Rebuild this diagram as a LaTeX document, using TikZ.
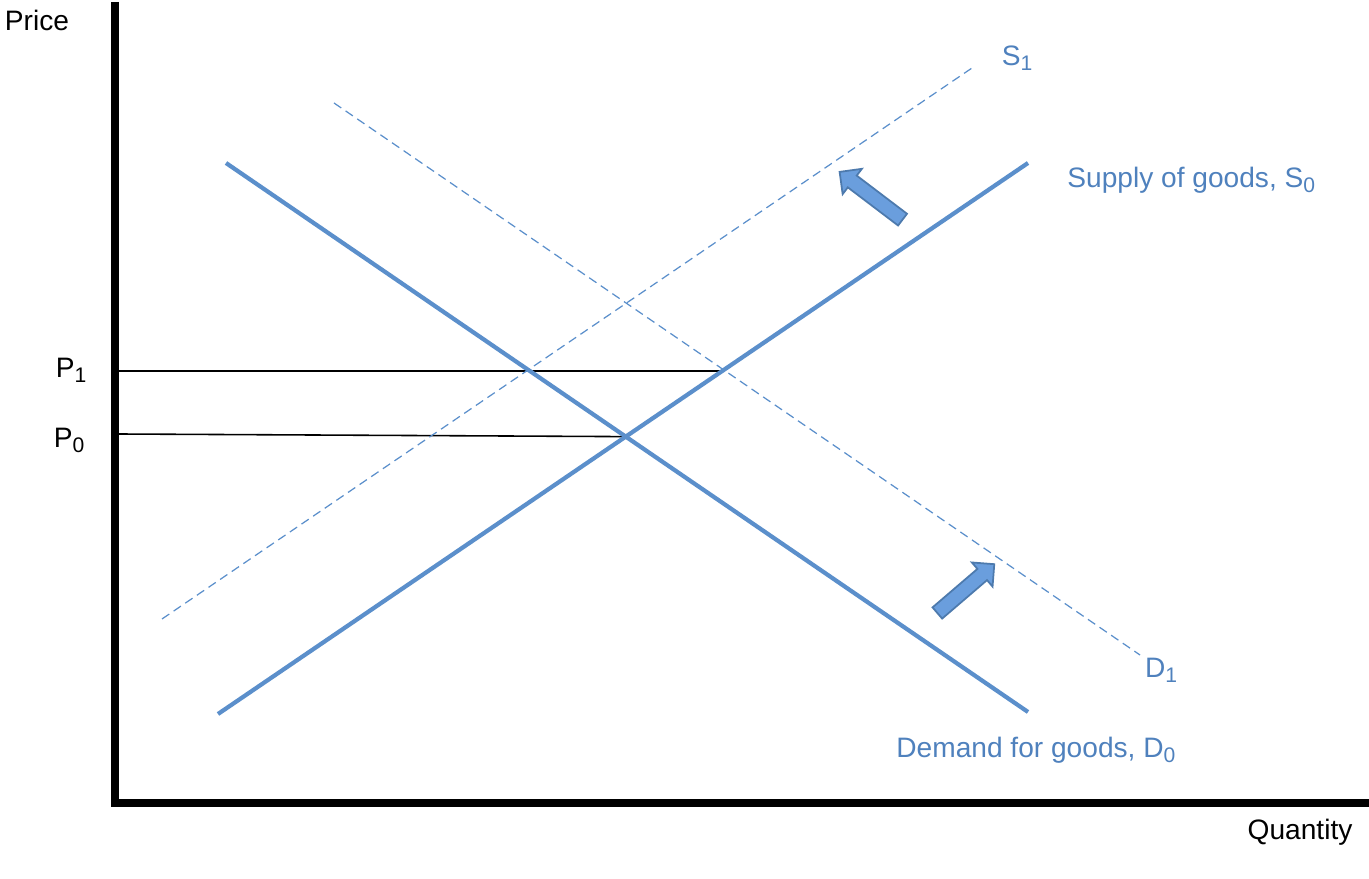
\documentclass[tikz,border=0pt]{standalone}
\usepackage{fontspec}
\setmainfont{Liberation Sans}
\usetikzlibrary{shapes.arrows}
\definecolor{curveblue}{HTML}{5B8FCB}
\definecolor{textblue}{HTML}{4F81BD}
\definecolor{shiftblue}{HTML}{6A9EDD}

\tikzset{
  curve/.style={curveblue,line width=1.2pt},
  shifted/.style={curveblue,line width=0.35pt,dash pattern=on 2.5pt off 1.5pt},
  level/.style={black,line width=0.45pt},
  curvelabel/.style={textblue,font=\fontsize{8}{9.5}\selectfont},
  axislabel/.style={black,font=\fontsize{8}{9.5}\selectfont},
  shiftarrow/.style={single arrow,draw=curveblue!85!black,fill=shiftblue,line width=0.5pt,
    inner sep=0.065cm,single arrow head extend=0.085cm,minimum width=0.30cm,anchor=center}
}

\begin{document}
\begin{tikzpicture}
  \useasboundingbox (0,0) rectangle (13.69,8.78);

  \coordinate (ytop) at (1.15,8.76);
  \coordinate (xend) at (13.69,0.75);

  \draw [line width=2.2pt] (ytop) -- (1.15,0.72);
  \draw [line width=2.0pt] (1.11,0.75) -- (xend);

  \coordinate (s0a) at (2.18,1.64);
  \coordinate (s0b) at (10.28,7.15);
  \coordinate (d0a) at (2.26,7.15);
  \coordinate (d0b) at (10.28,1.66);
  \coordinate (s1a) at (1.62,2.59);
  \coordinate (s1b) at (9.72,8.10);
  \coordinate (d1a) at (3.34,7.75);
  \coordinate (d1b) at (11.40,2.23);

  \coordinate (eq0) at (intersection of s0a--s0b and d0a--d0b);
  \coordinate (eq1) at (7.22,5.07);
  \coordinate (p1) at (1.18,5.07);
  \coordinate (p0) at (1.18,4.44);

  \draw [level] (p1) -- (eq1);
  \draw [level] (p0) -- (eq0);

  \draw [shifted] (s1a) -- (s1b);
  \draw [shifted] (d1a) -- (d1b);
  \draw [curve] (s0a) -- (s0b);
  \draw [curve] (d0a) -- (d0b);

  \node [shiftarrow,minimum height=0.79cm,rotate=142.8] (supplyshift) at (8.74,6.80) {};
  \node [shiftarrow,minimum height=0.75cm,rotate=40.6] (demandshift) at (9.63,2.87) {};

  \node [axislabel] (price) at (0.37,8.58) {Price};
  \node [axislabel] (quantity) at (13.00,0.46) {Quantity};
  \node [axislabel] (p1label) at (0.72,5.08) {P\textsubscript{1}};
  \node [axislabel] (p0label) at (0.70,4.38) {P\textsubscript{0}};

  \node [curvelabel] (s1label) at (10.18,8.20) {S\textsubscript{1}};
  \node [curvelabel,anchor=west] (s0label) at (10.55,6.98) {Supply of goods, S\textsubscript{0}};
  \node [curvelabel] (d1label) at (11.62,2.08) {D\textsubscript{1}};
  \node [curvelabel,anchor=west] (d0label) at (8.84,1.28) {Demand for goods, D\textsubscript{0}};
\end{tikzpicture}
\end{document}
